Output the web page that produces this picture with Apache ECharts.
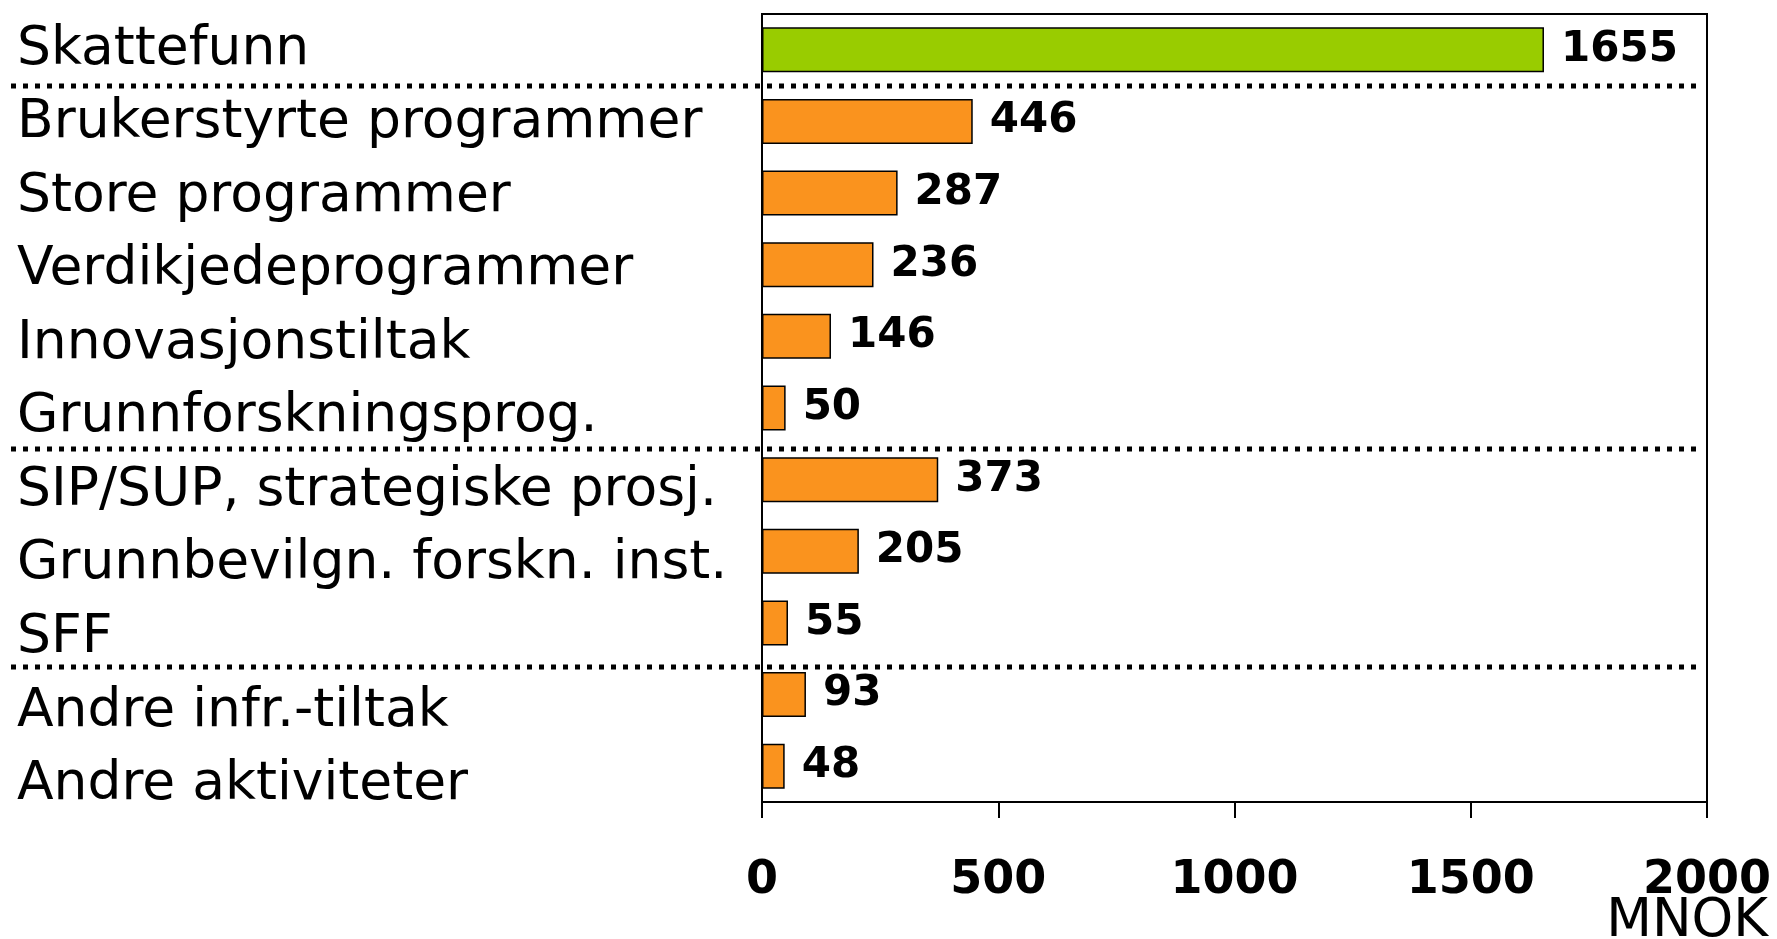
<!DOCTYPE html>
<html>
<head>
<meta charset="utf-8">
<script src="https://cdn.jsdelivr.net/npm/echarts@6/dist/echarts.min.js"></script>
<style>
html,body{margin:0;padding:0;background:#fff;}
#main{width:1777px;height:939px;}
</style>
</head>
<body>
<div id="main"></div>
<script>
// data
var categories = ['Skattefunn','Brukerstyrte programmer','Store programmer','Verdikjedeprogrammer',
	'Innovasjonstiltak','Grunnforskningsprog.','SIP/SUP, strategiske prosj.','Grunnbevilgn. forskn. inst.',
	'SFF','Andre infr.-tiltak','Andre aktiviteter'];
var values = [1655,446,287,236,146,50,373,205,55,93,48];
var xTicks = [0,500,1000,1500,2000];
var groupEnds = [0,5,8]; // dotted line after these rows
var unitName = 'MNOK';

var green = '#99cc00';
var orange = '#fa931e';
var font = '"DejaVu Sans", Verdana, sans-serif';

var myChart = echarts.init(document.getElementById('main'));

var option = {
	animation:false,
	grid:[
		{left:762,right:70,top:14,height:788,show:true,borderColor:'#000',borderWidth:2},
		{left:762,right:70,top:13,height:809,show:false}
	],
	xAxis:[
		{
			gridIndex:0,type:'value',
			min:xTicks[0],max:xTicks[xTicks.length-1],interval:xTicks[1]-xTicks[0],
			axisLine:{show:true,lineStyle:{color:'#000',width:2}},
			axisTick:{show:true,length:16,lineStyle:{color:'#000',width:2}},
			axisLabel:{
				margin:56,color:'#000',fontSize:46,fontWeight:'bold',fontFamily:font,
				formatter:function(v){ return String(v); }
			},
			splitLine:{show:false}
		},
		{gridIndex:1,type:'value',show:false,min:0,max:1}
	],
	yAxis:[
		{
			gridIndex:0,type:'category',inverse:true,data:categories,
			axisLine:{show:true,lineStyle:{color:'#000',width:2}},
			axisTick:{show:false},
			axisLabel:{show:false}
		},
		{
			gridIndex:1,type:'category',inverse:true,data:categories,
			axisLine:{show:false},axisTick:{show:false},
			axisLabel:{align:'left',margin:745,color:'#000',fontSize:53.5,fontFamily:font}
		}
	],
	series:[{
		type:'bar',
		xAxisIndex:0,yAxisIndex:0,
		data:values,
		barWidth:45,
		itemStyle:{
			color:function(p){ return p.dataIndex == 0 ? green : orange; },
			borderColor:'#000',borderWidth:1.5
		},
		label:{
			show:true,position:'right',distance:17,
			color:'#000',fontSize:42,fontWeight:'bold',fontFamily:font
		}
	}]
};
myChart.setOption(option);

// dotted separators between the groups: midway between bar rows and label rows
function boundary(axisIdx, i){
	var a = myChart.convertToPixel({yAxisIndex:axisIdx}, i);
	var b = myChart.convertToPixel({yAxisIndex:axisIdx}, i+1);
	return (a+b)/2;
}
var graphics = [];
for(var i=0;i<groupEnds.length;i++){
	var y = Math.round((boundary(0,groupEnds[i]) + boundary(1,groupEnds[i]))/2);
	graphics.push({
		type:'line',z:100,
		shape:{x1:11,y1:y,x2:1703,y2:y},
		style:{stroke:'#000',lineWidth:5,lineDash:[5,7]}
	});
}
graphics.push({
	type:'text',right:9,top:896,
	style:{text:unitName,fill:'#000',font:'53px ' + font}
});
myChart.setOption({graphic:graphics});
</script>
</body>
</html>
